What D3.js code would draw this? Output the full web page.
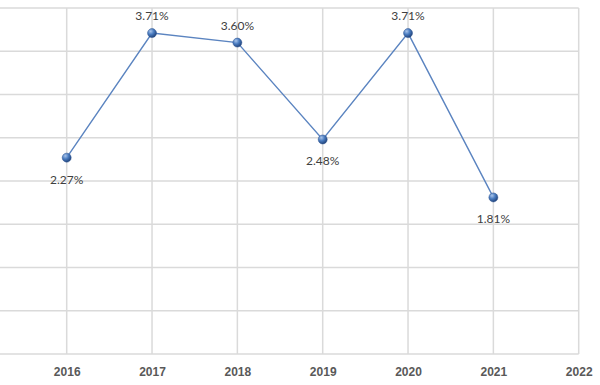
<!DOCTYPE html>
<html>
<head>
<meta charset="utf-8">
<script src="https://cdn.jsdelivr.net/npm/d3@7"></script>
<style>
  body { margin: 0; background: #fff; }
  svg { display: block; font-family: Lato, "Open Sans", sans-serif; }
</style>
</head>
<body>
<div id="chart"></div>
<script>
// data
var years = ["2016", "2017", "2018", "2019", "2020", "2021", "2022"];
var rateYears = ["2016", "2017", "2018", "2019", "2020", "2021"];
var rates = [2.27, 3.71, 3.60, 2.48, 3.71, 1.81];
var labelBelow = [true, false, false, true, false, true];
var yTicks = [0, 0.5, 1, 1.5, 2, 2.5, 3, 3.5, 4];

var width = 600, height = 385;

var svg = d3.select("#chart").append("svg")
    .attr("width", width)
    .attr("height", height);

var defs = svg.append("defs");
var grad = defs.append("radialGradient")
    .attr("id", "ball")
    .attr("cx", "35%").attr("cy", "30%").attr("r", "70%");
grad.append("stop").attr("offset", "0%").attr("stop-color", "#a9c4ea");
grad.append("stop").attr("offset", "50%").attr("stop-color", "#4a7cc0");
grad.append("stop").attr("offset", "100%").attr("stop-color", "#23467e");

var x = d3.scalePoint()
    .domain(years)
    .range([66.7, 578.7]);
var step = x.step();

var y = d3.scaleLinear()
    .domain([0, 4])
    .range([354, 8]);

var grid = svg.append("g");
// horizontal gridlines (plot runs off the left edge of the crop)
grid.selectAll("line.h")
    .data(yTicks)
    .enter()
    .append("line")
    .attr("class", "h")
    .attr("x1", x(years[0]) - step)
    .attr("x2", x(years[years.length - 1]))
    .attr("y1", function(d) { return y(d); })
    .attr("y2", function(d) { return y(d); })
    .style("stroke", "#dadada")
    .style("stroke-width", 1.5);

// vertical gridlines
grid.selectAll("line.v")
    .data(years)
    .enter()
    .append("line")
    .attr("class", "v")
    .attr("x1", function(d) { return x(d); })
    .attr("x2", function(d) { return x(d); })
    .attr("y1", y(4))
    .attr("y2", y(0))
    .style("stroke", "#dadada")
    .style("stroke-width", 1.5);

// x axis labels
var xAxis = svg.append("g")
    .attr("transform", "translate(0," + y(0) + ")")
    .call(d3.axisBottom(x).tickSize(0).tickPadding(13));
xAxis.select(".domain").remove();
xAxis.selectAll("text")
    .style("font-size", "12px")
    .style("font-weight", "bold")
    .style("fill", "#595959");

var points = rateYears.map(function(yr, i) {
    return { year: yr, value: rates[i], below: labelBelow[i] };
});

var line = d3.line()
    .x(function(d) { return x(d.year); })
    .y(function(d) { return y(d.value); });

svg.append("path")
    .datum(points)
    .attr("d", line)
    .style("fill", "none")
    .style("stroke", "#5b84c0")
    .style("stroke-width", 1.4);

svg.selectAll("circle.pt")
    .data(points)
    .enter()
    .append("circle")
    .attr("class", "pt")
    .attr("cx", function(d) { return x(d.year); })
    .attr("cy", function(d) { return y(d.value); })
    .attr("r", 4.5)
    .style("fill", "url(#ball)")
    .style("stroke", "#2c5391")
    .style("stroke-width", 0.5);

svg.selectAll("text.lbl")
    .data(points)
    .enter()
    .append("text")
    .attr("class", "lbl")
    .attr("x", function(d) { return x(d.year); })
    .attr("y", function(d) { return y(d.value) + (d.below ? 26 : -13); })
    .attr("text-anchor", "middle")
    .style("font-size", "12px")
    .style("fill", "#404040")
    .text(function(d) { return d.value.toFixed(2) + "%"; });
</script>
</body>
</html>
